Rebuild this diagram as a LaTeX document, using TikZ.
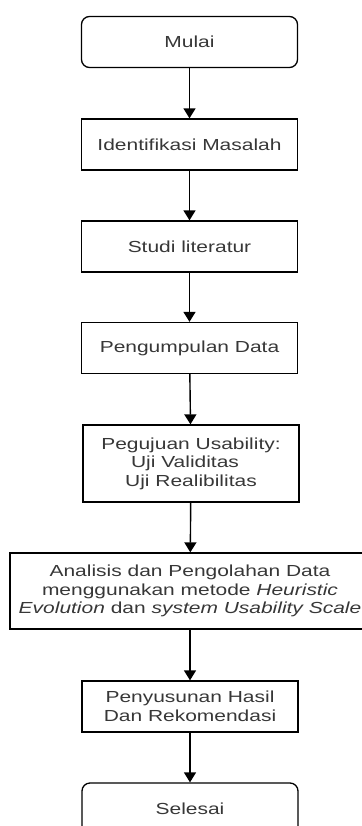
\documentclass[tikz,border=0pt]{standalone}
\usepackage{fontspec}
\setmainfont[FakeStretch=1.31]{Liberation Sans}
\usetikzlibrary{arrows.meta}
\definecolor{textgray}{RGB}{55,55,55}

\begin{document}
\begin{tikzpicture}[x=1pt,y=-1pt,>={Triangle[width=12pt,length=10pt]},
  font=\fontsize{16}{18.5}\selectfont,
  proc/.style={draw,line width=1.3pt,minimum width=216pt,minimum height=51pt,inner sep=0pt,align=center,text=textgray},
  term/.style={proc,rounded corners=8pt},
  flow/.style={->,line width=1.4pt}]
\useasboundingbox (0,0) rectangle (361,826);
% langkah penelitian
\node[term] (mulai) at (189.5,42) {Mulai};
\node[proc] (identifikasi) at (189.5,144.5) {Identifikasi Masalah};
\node[proc] (studi) at (189.5,246.5) {Studi literatur};
\node[proc] (pengumpulan) at (189.5,348) {Pengumpulan Data};
\node[proc,minimum height=77pt] (pengujian) at (191,463.5)
  {Pegujuan Usability:\\Uji Validitas\rule{12pt}{0pt}\\Uji Realibilitas};
\node[proc,minimum width=360pt,minimum height=76pt] (analisis) at (190,591)
  {Analisis dan Pengolahan Data\\menggunakan metode \textit{Heuristic}\\\textit{Evolution} dan \textit{system Usability Scale}};
\node[proc] (penyusunan) at (190,706.5) {Penyusunan Hasil\\Dan Rekomendasi};
\node[term] (selesai) at (190,808.5) {Selesai};
% alur
\draw[flow] (mulai) -- (identifikasi);
\draw[flow] (identifikasi) -- (studi);
\draw[flow] (studi) -- (pengumpulan);
\draw[flow] (pengumpulan) -- (pengujian);
\draw[flow] (pengujian) -- (analisis);
\draw[flow] (analisis) -- (penyusunan);
\draw[flow] (penyusunan) -- (selesai);
\end{tikzpicture}
\end{document}
